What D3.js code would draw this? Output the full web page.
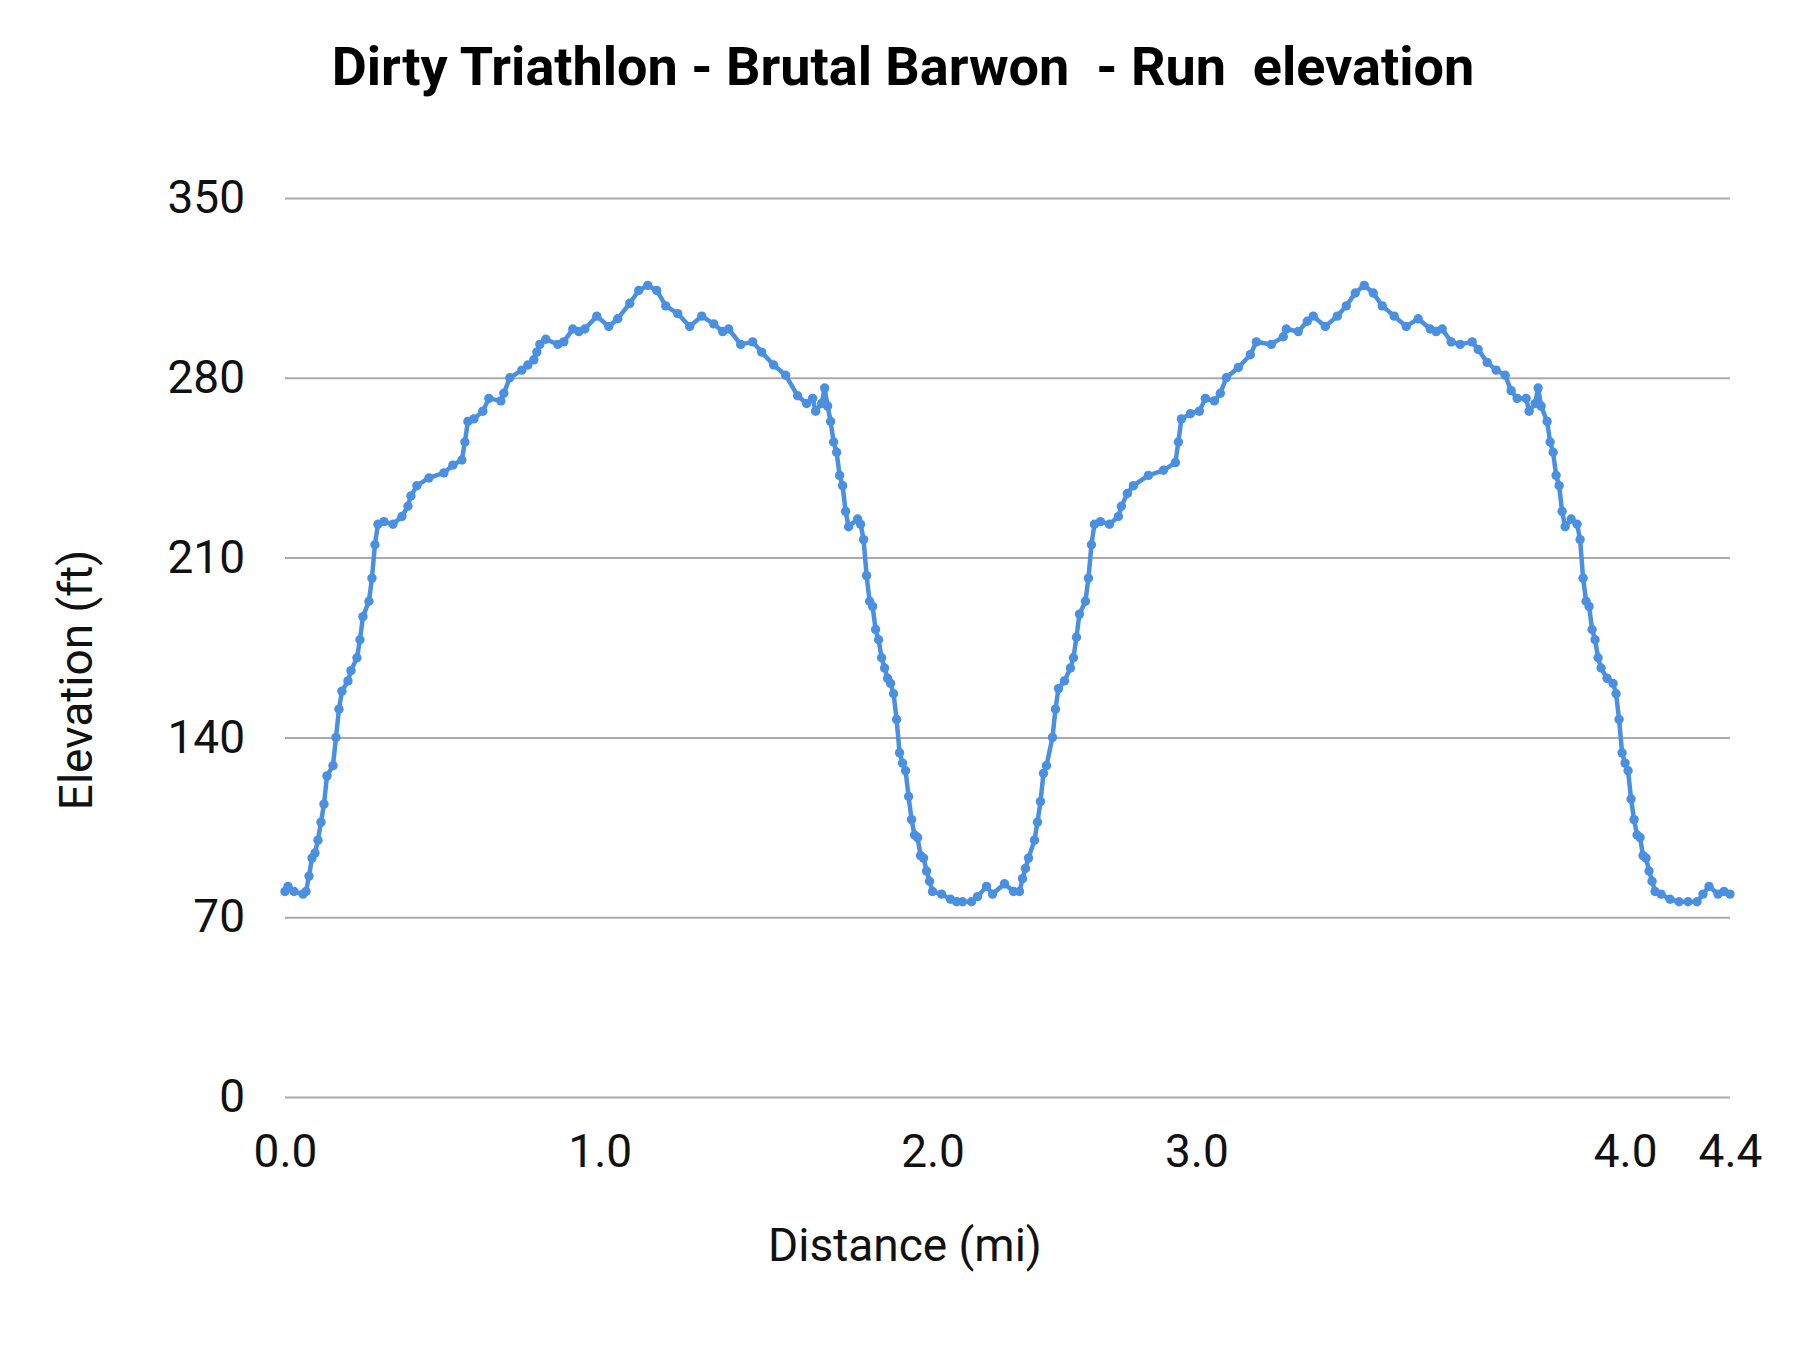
<!DOCTYPE html>
<html>
<head>
<meta charset="utf-8">
<script src="https://cdn.jsdelivr.net/npm/d3@7"></script>
<style>
  html, body { margin: 0; padding: 0; background: #fff; }
  svg { display: block; font-family: Roboto, "Noto Sans", sans-serif; }
</style>
</head>
<body>
<svg id="chart"></svg>
<script>
// Points are plotted by sample number (category axis), the way the sheet drew them.
// Only every few samples are kept.
const sampleIndex = [
  0, 1, 3, 6, 7, 8, 9, 10, 11, 12, 13, 14, 16, 17, 18, 19, 21, 22, 24, 25, 26, 28, 29, 30, 31,
  33, 36, 39, 41, 42, 44, 48, 53, 56, 59, 60, 61, 63, 66, 68, 72, 73, 75, 79, 81, 83, 84, 85, 87,
  91, 93, 96, 98, 100, 104, 108, 111, 115, 118, 121, 124, 127, 131, 135, 139, 143, 146, 148, 152,
  156, 159, 163, 167, 171, 174, 176, 177, 179, 180, 181, 182, 183, 184, 185, 186, 187, 188, 191,
  192, 193, 194, 195, 196, 197, 198, 199, 200, 201, 202, 203, 204, 205, 206, 207, 208, 209, 210,
  211, 212, 213, 214, 215, 216, 219, 222, 224, 226, 229, 231, 234, 236, 240, 243, 245,
  246, 247, 248, 250, 251, 252, 253, 254, 256, 257, 258, 260, 262, 263, 264, 265, 267, 268, 269,
  270, 272, 275, 278, 279, 281, 283, 288, 293, 297, 298, 299, 302, 305, 307, 310, 312, 314, 318,
  322, 324, 329, 333, 334, 338, 341, 343, 347, 351, 354, 357, 360, 363, 366, 370, 374, 378, 382,
  384, 386, 389, 392, 396, 398, 401, 404, 407, 409, 411, 414, 415, 417, 418, 419, 421, 422, 423,
  424, 425, 426, 427, 429, 431, 432, 433, 434, 435, 436, 437, 438, 439, 441, 443, 444, 445, 446,
  447, 448, 449, 450, 451, 452, 453, 454, 455, 456, 457, 459, 462, 465, 468, 471, 473, 475, 478,
  480, 482
];
const elevationFt = [
  80, 82, 80, 79, 80, 86, 93, 95, 100, 107, 114, 125, 129, 140, 151, 158, 162, 166, 171, 178, 187, 193, 202, 215, 223,
  224, 223, 226, 230, 234, 238, 241, 243, 246, 248, 255, 263, 264, 267, 272, 271, 274, 280, 283, 285, 287, 290, 293, 295,
  293, 294, 299, 298, 299, 304, 300, 303, 309, 314, 316, 314, 308, 305, 300, 304, 301, 298, 299, 293,
  294, 290, 285, 281, 273, 270, 272, 267, 270, 276, 269, 263, 255, 251, 242, 238, 228, 222, 225,
  223, 217, 203, 193, 191, 182, 178, 171, 167, 163, 161, 157, 147, 134, 130, 127, 117, 108, 102,
  101, 94, 93, 88, 84, 80, 79, 77, 76, 76, 76, 78, 82, 79, 83, 80, 80,
  85, 89, 93, 100, 107, 115, 126, 129, 140, 151, 159, 162, 167, 171, 179, 188, 193, 202, 215,
  223, 224, 223, 226, 230, 235, 238, 242, 244, 247, 255, 264, 266, 267, 272, 271, 274, 280, 284,
  289, 294, 293, 296, 299, 298, 302, 304, 300, 304, 308, 313, 316, 313, 308, 304, 300, 303, 299,
  298, 299, 294, 293, 294, 291, 286, 283, 281, 275, 272, 272, 267, 270, 276, 269, 263, 255, 251,
  242, 238, 228, 222, 225, 223, 217, 202, 193, 191, 182, 178, 171, 167, 163, 161, 157, 147, 134,
  130, 127, 116, 108, 102, 101, 94, 93, 88, 84, 80, 79, 77, 76, 76, 76, 79, 82, 79,
  80, 79
];
const lastSample = 482;
const xTickIndex = [0, 105, 216, 304, 447, 482];
const xTickLabel = ["0.0", "1.0", "2.0", "3.0", "4.0", "4.4"];
const yTicks = [0, 70, 140, 210, 280, 350];

const title = "Dirty Triathlon - Brutal Barwon  - Run  elevation";
const xTitle = "Distance (mi)";
const yTitle = "Elevation (ft)";

// Dimensions
const dimensions = {
  width: 1800,
  height: 1350,
  margin: { top: 198, right: 70, bottom: 253, left: 285 },
};
dimensions.innerWidth = dimensions.width - dimensions.margin.left - dimensions.margin.right;
dimensions.innerHeight = dimensions.height - dimensions.margin.top - dimensions.margin.bottom;

const svg = d3.select("#chart")
  .attr("width", dimensions.width)
  .attr("height", dimensions.height);

svg.append("rect")
  .attr("width", dimensions.width)
  .attr("height", dimensions.height)
  .attr("fill", "#ffffff");

const container = svg.append("g")
  .attr("transform", `translate(${dimensions.margin.left}, ${dimensions.margin.top})`);

// Scales
const xScale = d3.scaleLinear().domain([0, lastSample]).range([0, dimensions.innerWidth]);
const yScale = d3.scaleLinear().domain([0, 350]).range([dimensions.innerHeight, 0]);

// Y axis doubles as the gridlines
const yAxis = d3.axisLeft(yScale)
  .tickValues(yTicks)
  .tickSize(-dimensions.innerWidth)
  .tickPadding(40)
  .tickFormat(d => `${d}`);

const yAxisGroup = container.append("g").call(yAxis);
yAxisGroup.select(".domain").remove();
yAxisGroup.selectAll(".tick line")
  .attr("stroke", "#aaaaaa")
  .attr("stroke-width", 2);
yAxisGroup.selectAll(".tick text")
  .attr("fill", "#111")
  .style("font-size", "46px")
  .style("font-family", "Roboto");

// X axis (labels only)
const xAxis = d3.axisBottom(xScale)
  .tickValues(xTickIndex)
  .tickSize(0)
  .tickPadding(37)
  .tickFormat((d, i) => xTickLabel[i]);

const xAxisGroup = container.append("g")
  .attr("transform", `translate(0, ${dimensions.innerHeight})`)
  .call(xAxis);
xAxisGroup.select(".domain").remove();
xAxisGroup.selectAll(".tick text")
  .attr("fill", "#111")
  .style("font-size", "46px")
  .style("font-family", "Roboto");

// Line + points
const points = sampleIndex.map((s, i) => ({ s: s, e: elevationFt[i] }));
const lineGenerator = d3.line()
  .x(d => xScale(d.s))
  .y(d => yScale(d.e));

container.append("path")
  .datum(points)
  .attr("d", lineGenerator)
  .attr("fill", "none")
  .attr("stroke", "#4a90e2")
  .attr("stroke-width", 4.5)
  .attr("stroke-linejoin", "round");

container.append("g")
  .selectAll("circle")
  .data(points)
  .join("circle")
  .attr("cx", d => xScale(d.s))
  .attr("cy", d => yScale(d.e))
  .attr("r", 4.7)
  .attr("fill", "#4a90e2");

// Titles
svg.append("text")
  .attr("x", 903)
  .attr("y", 85)
  .attr("text-anchor", "middle")
  .attr("fill", "#000")
  .style("font-size", "54px")
  .style("font-weight", "bold")
  .style("white-space", "pre")
  .attr("xml:space", "preserve")
  .text(title);

svg.append("text")
  .attr("x", 905)
  .attr("y", 1261)
  .attr("text-anchor", "middle")
  .attr("fill", "#111")
  .style("font-size", "46px")
  .text(xTitle);

svg.append("text")
  .attr("transform", "translate(92, 680) rotate(-90)")
  .attr("text-anchor", "middle")
  .attr("fill", "#111")
  .style("font-size", "46px")
  .text(yTitle);
</script>
</body>
</html>
